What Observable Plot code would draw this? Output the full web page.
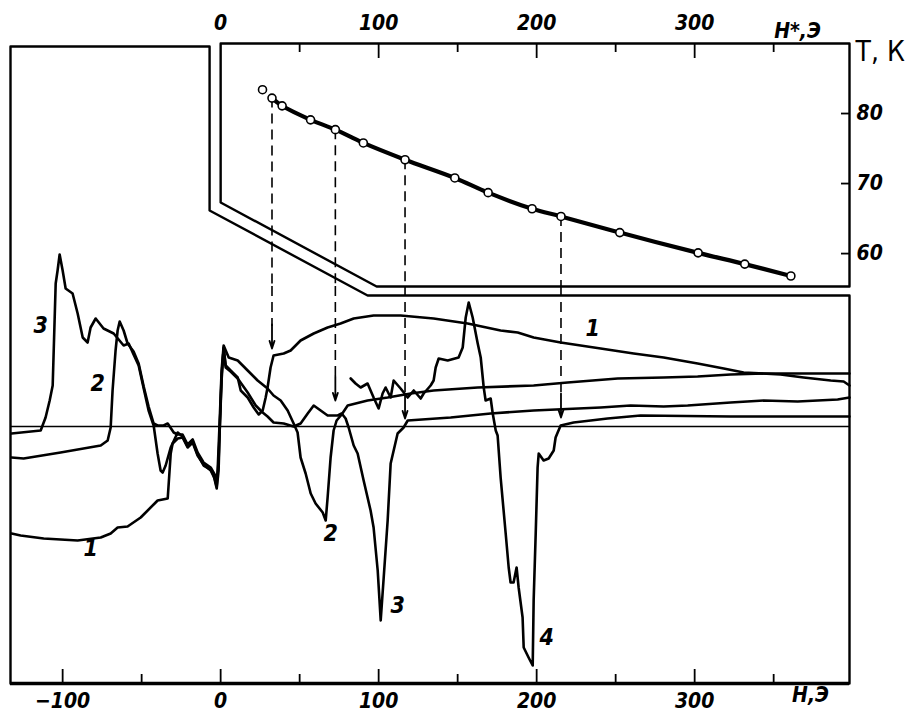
<!DOCTYPE html>
<html><head><meta charset="utf-8">
<script src="https://cdn.jsdelivr.net/npm/d3@7"></script>
<script src="https://cdn.jsdelivr.net/npm/@observablehq/plot@0.6"></script>
<style>
body{margin:0;background:#fff;}
#wrap{position:relative;width:907px;height:719px;overflow:hidden;}
#wrap svg{position:absolute;left:0;top:0;overflow:visible;}
</style></head><body><div id="wrap"></div>
<script>
// ---------- DATA (H in Oe, signal in arbitrary units) ----------
const curve1 = [[-132.3,-10.7],[-126.6,-10.9],[-112.0,-11.2],[-90.5,-11.4],[-75.9,-11.1],[-69.6,-10.7],[-65.2,-10.1],[-58.9,-10.0],[-50.6,-9.1],[-39.9,-7.4],[-33.5,-7.2],[-31.6,-2.7],[-30.4,-1.7],[-27.2,-1.2],[-24.1,-1.1],[-20.9,-2.1],[-17.7,-1.6],[-14.6,-2.9],[-10.8,-3.8],[-6.3,-4.4],[-3.8,-5.2],[-2.5,-6.0],[-1.3,-3.4],[-0.6,-0.4],[0.6,4.6],[1.9,7.9],[3.2,6.1],[6.3,5.6],[10.8,4.9],[12.7,3.6],[17.1,2.9],[20.9,1.9],[24.1,1.2],[26.6,1.6],[28.5,2.9],[29.7,3.9],[31.6,5.9],[33.5,7.1],[39.9,7.3],[44.3,7.6],[50.6,8.6],[58.9,9.3],[67.7,9.9],[75.9,10.3],[84.2,10.8],[96.8,11.1],[113.9,11.1],[134.8,10.8],[156.3,10.3],[177.2,9.6],[188.0,9.4],[198.1,8.9],[215.2,8.4],[240.5,7.8],[261.4,7.3],[280.4,6.9],[301.9,6.3],[318.4,5.8],[331.0,5.4],[354.4,5.2],[369.0,4.9],[386.1,4.6],[394.3,4.5],[398.0,4.1]];
const curve2 = [[-132.3,-3.1],[-124.7,-3.2],[-101.3,-2.6],[-75.9,-1.9],[-71.5,-1.4],[-69.6,-0.1],[-68.4,3.6],[-66.5,7.6],[-65.2,9.6],[-63.9,10.5],[-61.4,9.6],[-58.9,8.3],[-55.1,7.5],[-51.9,6.3],[-48.7,4.0],[-45.6,2.0],[-42.4,0.3],[-39.9,0.1],[-36.1,0.1],[-33.5,0.3],[-29.7,-0.6],[-27.2,-0.8],[-24.1,-0.8],[-20.9,-1.8],[-17.7,-1.3],[-14.6,-2.6],[-10.8,-3.6],[-6.3,-4.1],[-3.8,-4.8],[-2.5,-5.4],[-1.9,-4.4],[-0.6,0.6],[0.6,5.6],[1.9,8.1],[5.1,6.9],[10.8,6.6],[17.1,5.6],[23.4,4.6],[29.7,3.8],[33.5,3.1],[38.0,2.6],[42.4,1.6],[46.2,0.3],[48.7,-0.6],[50.6,-3.1],[53.8,-4.7],[57.0,-6.7],[60.1,-7.7],[64.6,-8.6],[66.5,-9.4],[67.7,-7.1],[69.6,-3.1],[71.5,-0.4],[73.4,0.6],[76.6,1.2],[80.4,2.1],[93.0,2.6],[105.7,2.9],[120.3,3.3],[134.8,3.6],[162.7,3.9],[198.1,4.1],[219.6,4.4],[251.3,4.8],[280.4,4.9],[301.9,5.0],[322.8,5.2],[343.7,5.3],[398.0,5.3]];
const curve3 = [[-132.3,-0.7],[-113.9,-0.4],[-110.8,0.9],[-108.2,2.6],[-106.3,4.1],[-104.4,14.3],[-103.2,15.6],[-101.9,17.2],[-100.0,15.6],[-98.1,13.8],[-93.7,13.3],[-90.5,11.3],[-87.3,8.9],[-84.2,8.4],[-82.3,9.9],[-79.1,10.8],[-74.1,9.8],[-67.7,9.3],[-61.4,8.1],[-58.2,8.3],[-55.1,7.2],[-51.9,6.1],[-48.7,3.8],[-45.6,1.6],[-42.4,0.1],[-39.9,-2.7],[-38.0,-4.4],[-36.7,-4.6],[-34.8,-3.9],[-31.6,-2.1],[-27.2,-0.6],[-24.1,-1.0],[-20.9,-2.0],[-17.7,-1.5],[-14.6,-2.8],[-10.8,-3.9],[-6.3,-4.3],[-4.4,-4.9],[-2.5,-6.2],[-1.3,-4.4],[-0.6,-0.4],[0.6,5.1],[1.9,7.8],[3.2,5.9],[6.3,5.5],[10.8,4.8],[17.1,3.4],[22.2,2.1],[26.6,1.4],[29.7,1.0],[33.5,0.4],[39.9,0.3],[46.2,0.0],[50.6,0.3],[55.1,1.3],[58.9,2.1],[63.3,1.6],[67.7,1.1],[74.1,1.1],[76.6,1.3],[79.1,0.8],[81.0,-0.1],[84.2,-1.9],[86.7,-2.7],[90.5,-5.4],[94.9,-8.4],[96.8,-10.1],[99.4,-14.4],[101.3,-19.4],[103.2,-15.1],[105.7,-9.4],[107.6,-3.7],[112.0,-0.7],[115.8,-0.1],[118.4,0.6],[145.6,0.9],[170.9,1.3],[198.1,1.6],[240.5,1.9],[259.5,2.1],[280.4,2.0],[295.6,2.1],[322.8,2.4],[343.7,2.6],[365.2,2.5],[390.5,2.7],[398.0,2.9]];
const curve4 = [[82.3,4.8],[85.4,4.3],[88.6,3.9],[93.0,4.3],[96.8,2.9],[100.0,1.8],[102.5,3.3],[104.4,3.9],[107.6,2.9],[109.5,4.6],[113.9,3.8],[118.4,2.9],[122.2,3.6],[126.6,2.8],[128.5,3.3],[132.9,4.1],[134.8,4.6],[136.1,5.9],[138.0,6.8],[143.7,6.6],[150.6,6.9],[153.2,7.9],[155.1,10.9],[157.0,12.4],[159.5,10.9],[162.7,8.3],[164.6,6.9],[166.5,3.9],[167.7,2.6],[170.9,2.8],[172.2,1.3],[174.1,-0.4],[175.3,-0.9],[177.2,-5.1],[180.4,-10.7],[182.3,-14.1],[183.5,-15.6],[185.4,-15.6],[187.3,-14.1],[188.6,-16.1],[191.1,-19.1],[191.8,-22.1],[194.9,-23.1],[197.5,-23.9],[198.1,-17.4],[199.4,-10.7],[200.6,-4.1],[201.3,-2.7],[204.4,-3.4],[207.6,-3.2],[210.8,-2.4],[212.0,-1.1],[213.3,-0.6],[215.2,0.1],[223.4,0.4],[234.2,0.6],[244.9,0.8],[265.8,1.1],[322.8,1.0],[398.0,1.0]];

// inset: T(H*)
const insetH = [26.5,32.5,38.9,56.9,72.6,90.3,116.7,148.2,169.3,197.1,215.4,252.6,302.2,331.7,360.9];
const insetT = [83.4,82.2,81.1,79.1,77.7,75.8,73.4,70.8,68.7,66.4,65.3,63.0,60.1,58.5,56.8];

// dashed connectors: inset point index -> arrow tip on main signal
const arrowIdx = [1,4,6,10];
const arrowTip = [7.8,2.6,0.8,0.9];

// axes
const xTicksMajor = [-100,0,100,200,300];
const xTicksMinor = [-50,50,150,250,350];
const insetTicksMajor = [100,200,300];
const insetTicksMinor = [50,150,250,350];
const insetTickLabels = [0,100,200,300];
const tTicks = [60,70,80];

// curve labels
const labelText = ["3","2","1","2","3","4","1"];
const labelH = [-113.9,-77.8,-82.3,69.6,112.0,206.3,235.4];
const labelV = [10.1,4.3,-12.2,-10.7,-17.9,-21.1,9.8];

// frames (boundary lines of the two panels)
const mainFrameH = [-133,-7.0,-7.0,93.0,398,398,-133,-133];
const mainFrameV = [38.0,38.0,21.6,13.1,13.1,-25.7,-25.7,38.0];
const insetFrameH = [0,398,398,98.7,0,0];
const insetFrameT = [90,90,55.3,55.3,67.3,90];

// ---------- BUILD ----------
const FONT = "'Liberation Sans Narrow','DejaVu Sans Condensed','Liberation Sans',sans-serif";
const W = 907, HT = 719;
const xDomain = [-133,398];
const mainY = [-25.7,38.1];
const insetY = [55.3,90];
const M = {marginLeft:10, marginRight:58};
const LBL = {fontSize:21, fontStyle:"italic", fontWeight:"bold"};

const curves = [curve1,curve2,curve3,curve4].flatMap((c,i)=>c.map(([H,v])=>({H,v,id:String(i+1)})));
const pts = insetH.map((H,i)=>({H,T:insetT[i]}));
const arrows = arrowIdx.map((k,i)=>({H:insetH[k],T:insetT[k],tip:arrowTip[i]}));
const labels = labelText.map((t,i)=>({t,H:labelH[i],v:labelV[i]}));
const mainFrame = mainFrameH.map((H,i)=>({H,v:mainFrameV[i]}));
const insetFrame = insetFrameH.map((H,i)=>({H,T:insetFrameT[i]}));

// inset plot
const inset = Plot.plot({
  width:W, height:HT, ...M, marginTop:43, marginBottom:433,
  x:{domain:xDomain, axis:null}, y:{domain:insetY, axis:null},
  style:{background:"transparent", fontFamily:FONT, overflow:"visible"},
  marks:[
    Plot.line(insetFrame,{x:"H",y:"T",stroke:"black",strokeWidth:2.4}),
    Plot.ruleX(insetTicksMajor,{x:d=>d,y1:90,y2:90-15/7,stroke:"black",strokeWidth:1.8}),
    Plot.ruleX(insetTicksMinor,{x:d=>d,y1:90,y2:90-9/7,stroke:"black",strokeWidth:1.8}),
    Plot.text(insetTickLabels,{x:d=>d,y:90,dy:-20,text:d=>String(d),...LBL}),
    Plot.text(["Н*,Э"],{frameAnchor:"top-right",dx:-52,dy:-20,textAnchor:"middle",...LBL}),
    Plot.ruleY(tTicks,{y:d=>d,x1:398-8/1.58,x2:398,stroke:"black",strokeWidth:1.8}),
    Plot.text(tTicks,{x:398,y:d=>d,dx:7,textAnchor:"start",text:d=>String(d),...LBL}),
    Plot.text(["Т, К"],{frameAnchor:"top-right",dx:6,dy:-2,textAnchor:"start",fontSize:28}),
    Plot.ruleX(arrows,{x:"H",y1:"T",y2:insetY[0],stroke:"black",strokeWidth:1.6,strokeDasharray:"10,6"}),
    Plot.line(pts.slice(1),{x:"H",y:"T",stroke:"black",strokeWidth:4.2,curve:"catmull-rom"}),
    Plot.dot(pts,{x:"H",y:"T",r:4,fill:"white",stroke:"black",strokeWidth:1.6})
  ]
});

// main y scale & connector start (bottom edge of the inset)
const mainScale = Plot.scale({y:{domain:mainY, range:[HT-36,45]}});
const vTop = mainScale.invert(inset.scale("y").apply(insetY[0]));
const pxPerUnit = (HT-36-45)/(mainY[1]-mainY[0]);
const yMin = mainY[0];

const main = Plot.plot({
  width:W, height:HT, ...M, marginTop:45, marginBottom:36,
  x:{domain:xDomain, axis:null}, y:{domain:mainY, axis:null},
  style:{background:"transparent", fontFamily:FONT, overflow:"visible"},
  marks:[
    Plot.line(mainFrame,{x:"H",y:"v",stroke:"black",strokeWidth:2.4}),
    Plot.ruleY([yMin],{stroke:"black",strokeWidth:3.5}),
    Plot.ruleY([0],{stroke:"black",strokeWidth:1.6}),
    Plot.ruleX(xTicksMajor,{x:d=>d,y1:yMin,y2:yMin+14/pxPerUnit,stroke:"black",strokeWidth:1.8}),
    Plot.ruleX(xTicksMinor,{x:d=>d,y1:yMin,y2:yMin+9/pxPerUnit,stroke:"black",strokeWidth:1.8}),
    Plot.text(xTicksMajor,{x:d=>d,y:yMin,dy:18,text:d=>d<0?"−"+Math.abs(d):String(d),...LBL}),
    Plot.text(["Н,Э"],{frameAnchor:"bottom-right",dx:-39,dy:18,textAnchor:"middle",...LBL}),
    Plot.ruleX(arrows,{x:"H",y1:vTop,y2:d=>d.tip+22/pxPerUnit,stroke:"black",strokeWidth:1.6,strokeDasharray:"10,6"}),
    Plot.arrow(arrows,{x1:"H",x2:"H",y1:d=>d.tip+24/pxPerUnit,y2:"tip",stroke:"black",strokeWidth:1.8,headLength:11,headAngle:36,insetEnd:0}),
    Plot.line(curves,{x:"H",y:"v",z:"id",stroke:"black",strokeWidth:2.6,strokeLinejoin:"round"}),
    Plot.text(labels,{x:"H",y:"v",text:"t",fontSize:23,fontStyle:"italic",fontWeight:"bold"})
  ]
});

const wrap = document.getElementById("wrap");
wrap.appendChild(main);
wrap.appendChild(inset);
</script>
</body></html>
